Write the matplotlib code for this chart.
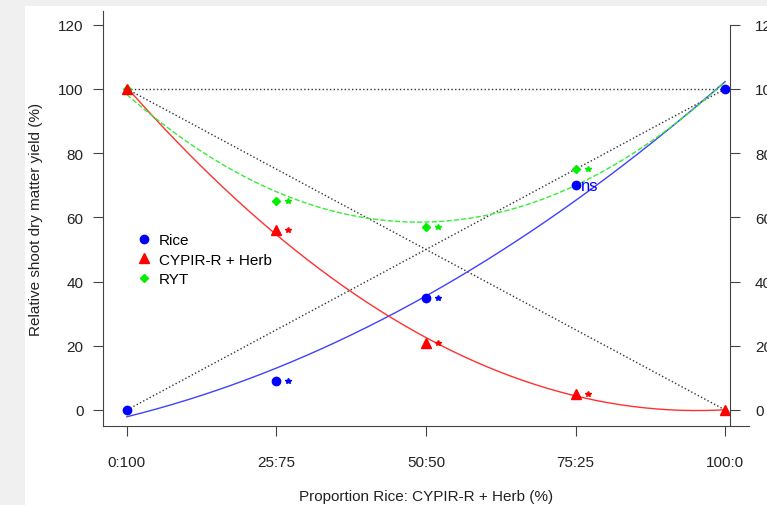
import numpy as np
import matplotlib.pyplot as plt
from matplotlib.patches import Rectangle
from matplotlib.lines import Line2D

plt.rcParams['font.family'] = ['Liberation Sans', 'DejaVu Sans']

# proportions of rice in the mixture (%)
proportion = [0, 25, 50, 75, 100]
tick_labels = ['0:100', '25:75', '50:50', '75:25', '100:0']

# relative shoot dry matter yield (%)
rice = [0, 9, 35, 70, 100]
cypir = [100, 56, 21, 5, 0]
ryt = [100, 65, 57, 75, 100]

# significance marks for the mixed stands (25, 50, 75)
rice_sig = ['*', '*', 'ns']
cypir_sig = ['*', '*', '*']
ryt_sig = ['*', '*', '*']

fig = plt.figure(figsize=(7.67, 5.06), dpi=100)
fig.patch.set_facecolor('#f0f0f0')
fig.patches.append(Rectangle((25 / 767, 0), 1, 1 - 7 / 506, transform=fig.transFigure,
                             facecolor='white', edgecolor='none', zorder=-10))

ax = fig.add_axes([103 / 767, 1 - 427 / 506, 646 / 767, 415 / 506])
ax.set_facecolor('none')
ax.set_xlim(-4, 104)
ax.set_ylim(-5, 124.3)

x = np.array(proportion, dtype=float)
xs = np.linspace(0, 100, 200)

# reference lines (expected yields under no interaction)
ax.plot([proportion[0], proportion[-1]], [rice[0], rice[-1]], ls=':', color='#333333', lw=1)
ax.plot([proportion[0], proportion[-1]], [cypir[0], cypir[-1]], ls=':', color='#333333', lw=1)
ax.plot([proportion[0], proportion[-1]], [ryt[0], ryt[-1]], ls=':', color='#333333', lw=1)

# quadratic fits
for vals, col, ls in [(rice, '#4040ff', '-'), (cypir, '#ff3030', '-'), (ryt, '#33ee33', '--')]:
    coef = np.polyfit(x, vals, 2)
    ax.plot(xs, np.polyval(coef, xs), color=col, ls=ls, lw=1)

# observed points
ax.plot(x, ryt, 'D', color='#00ee00', ms=4, ls='none')
ax.plot(x, rice, 'o', color='#0000ff', ms=6, ls='none')
ax.plot(x, cypir, '^', color='#ff0000', ms=7, ls='none')

# significance labels
for vals, sig, col in [(rice, rice_sig, '#0000ff'), (cypir, cypir_sig, '#ff0000'), (ryt, ryt_sig, '#00ee00')]:
    for xi, yi, s in zip(proportion[1:4], vals[1:4], sig):
        if s == '*':
            ax.plot(xi + 2, yi, '*', color=col, ms=4, ls='none')
        else:
            ax.text(xi + 0.9, yi, s, color=col, fontsize=12, va='center', ha='left')

ax.spines['top'].set_visible(False)
ax.spines['right'].set_visible(False)
for s in ['left', 'bottom']:
    ax.spines[s].set_color('#444444')
ax.set_xticks(proportion)
ax.set_xticklabels(tick_labels)
ax.set_yticks(range(0, 121, 20))
ax.tick_params(length=7, color='#444444', labelsize=11, labelcolor='#222222', pad=14)
ax.tick_params(axis='y', pad=7)

ax.set_xlabel('Proportion Rice: CYPIR-R + Herb (%)', fontsize=11, labelpad=14, color='#222222')
ax.set_ylabel('Relative shoot dry matter yield (%)', fontsize=11, labelpad=11, color='#222222')

# right axis
ax2 = ax.twinx()
ax2.set_ylim(ax.get_ylim())
for s in ['top', 'left', 'bottom']:
    ax2.spines[s].set_visible(False)
ax2.spines['right'].set_position(('axes', (730 - 103) / 646))
ax2.spines['right'].set_bounds(-5, 120)
ax2.spines['right'].set_color('#444444')
ax2.set_yticks(range(0, 121, 20))
ax2.tick_params(length=7, color='#444444', labelsize=11, labelcolor='#222222', pad=11)

handles = [
    Line2D([], [], marker='o', color='#0000ff', ls='none', ms=6),
    Line2D([], [], marker='^', color='#ff0000', ls='none', ms=7),
    Line2D([], [], marker='D', color='#00ee00', ls='none', ms=4),
]
ax.legend(handles, ['Rice', 'CYPIR-R + Herb', 'RYT'], loc='upper left',
          bbox_to_anchor=(0.03, 0.497), frameon=False, fontsize=11,
          handlelength=1, handletextpad=0.5, labelspacing=0.35)

fig.savefig('out.png', dpi=100)
